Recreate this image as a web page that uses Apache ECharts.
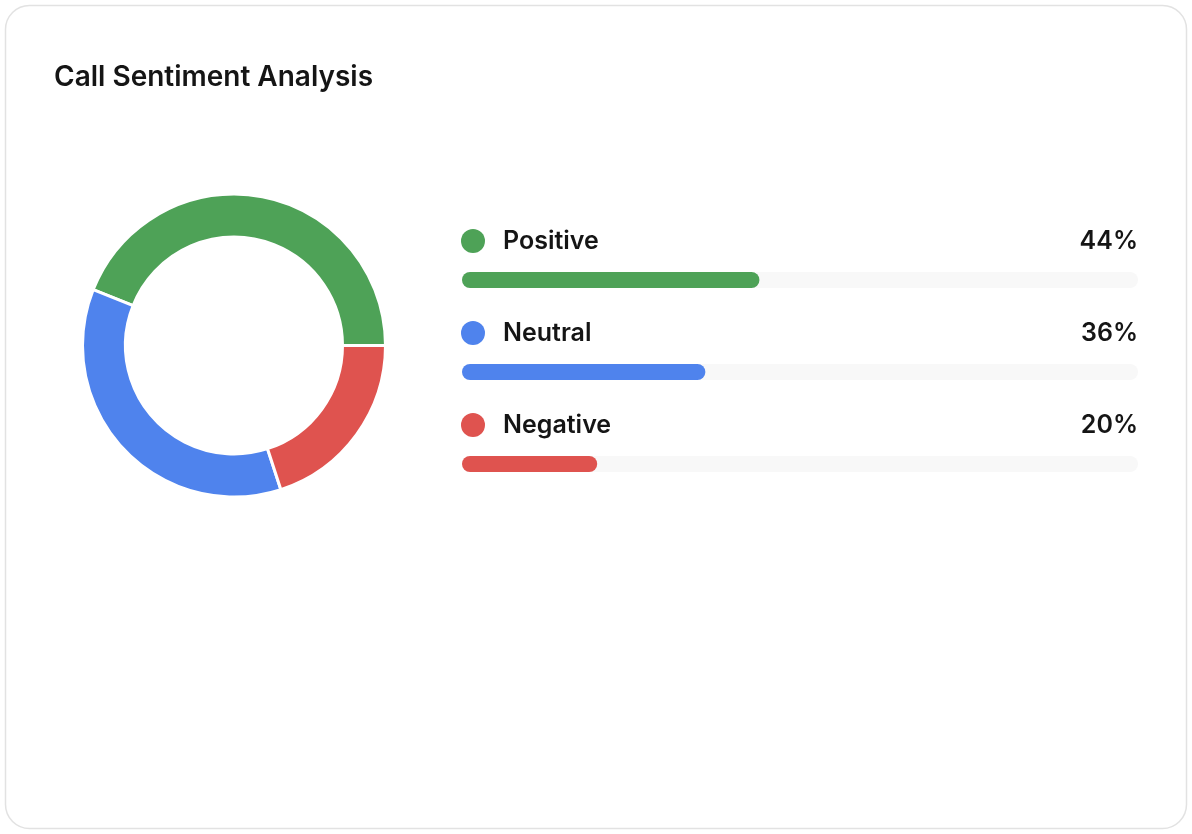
<!DOCTYPE html>
<html>
<head>
<meta charset="utf-8">
<script src="https://cdn.jsdelivr.net/npm/echarts@6/dist/echarts.min.js"></script>
<style>
  html, body { margin: 0; padding: 0; background: #fff; }
  #chart { width: 1192px; height: 834px; }
</style>
</head>
<body>
<div id="chart"></div>
<script>
const categories = ["Positive", "Neutral", "Negative"];
const shares = [44, 36, 20];
const colors = ["#4ea257", "#4f83ed", "#df534f"];
const fullScale = [100, 100, 100];

const chart = echarts.init(document.getElementById("chart"), null, { renderer: "canvas" });

const FONT = "Inter, 'Noto Sans', sans-serif";

const option = {
  animation: false,
  title: {
    text: "Call Sentiment Analysis",
    left: 54,
    top: 64,
    padding: 0,
    textStyle: { fontFamily: FONT, fontSize: 28, fontWeight: 600, color: "#151515", lineHeight: 28 },
  },
  graphic: [
    {
      type: "rect",
      z: -10,
      shape: { x: 5.5, y: 5.5, width: 1181, height: 823, r: 24 },
      style: { fill: "#fff", stroke: "#e2e2e2", lineWidth: 1.5 },
      silent: true,
    },
  ],
  grid: { left: 462, right: 54, top: 234, height: 276 },
  xAxis: { type: "value", min: 0, max: 100, show: false },
  yAxis: { type: "category", data: categories, inverse: true, show: false },
  series: [
    {
      type: "pie",
      center: [234, 345.5],
      radius: [108.5, 151.5],
      startAngle: 0,
      clockwise: false,
      label: { show: false },
      labelLine: { show: false },
      emphasis: { disabled: true },
      itemStyle: { borderColor: "#fff", borderWidth: 3 },
      data: categories.map((name, i) => ({
        name,
        value: shares[i],
        itemStyle: { color: colors[i] },
      })),
    },
    {
      // track behind each bar, carries the % label at its right end
      type: "bar",
      barWidth: 16,
      silent: true,
      data: fullScale,
      itemStyle: { color: "#f8f8f8", borderRadius: 8 },
      label: {
        show: true,
        position: ["100%", -31],
        align: "right",
        verticalAlign: "middle",
        formatter: (p) => shares[p.dataIndex] + "%",
        fontFamily: FONT,
        fontSize: 25,
        fontWeight: 600,
        color: "#151515",
      },
    },
    {
      type: "bar",
      barWidth: 16,
      barGap: "-100%",
      silent: true,
      data: shares.map((v, i) => ({ value: v, itemStyle: { color: colors[i] } })),
      itemStyle: { borderRadius: 8 },
      label: {
        show: true,
        position: [-1, -31],
        align: "left",
        verticalAlign: "middle",
        formatter: (p) => "{d" + p.dataIndex + "|}{name|" + categories[p.dataIndex] + "}",
        rich: {
          d0: { width: 24, height: 24, borderRadius: 12, backgroundColor: colors[0] },
          d1: { width: 24, height: 24, borderRadius: 12, backgroundColor: colors[1] },
          d2: { width: 24, height: 24, borderRadius: 12, backgroundColor: colors[2] },
          name: {
            fontFamily: FONT,
            fontSize: 25,
            fontWeight: 600,
            color: "#151515",
            padding: [0, 0, 0, 18],
          },
        },
      },
    },
  ],
};

chart.setOption(option);
window.addEventListener("resize", () => chart.resize());
</script>
</body>
</html>
